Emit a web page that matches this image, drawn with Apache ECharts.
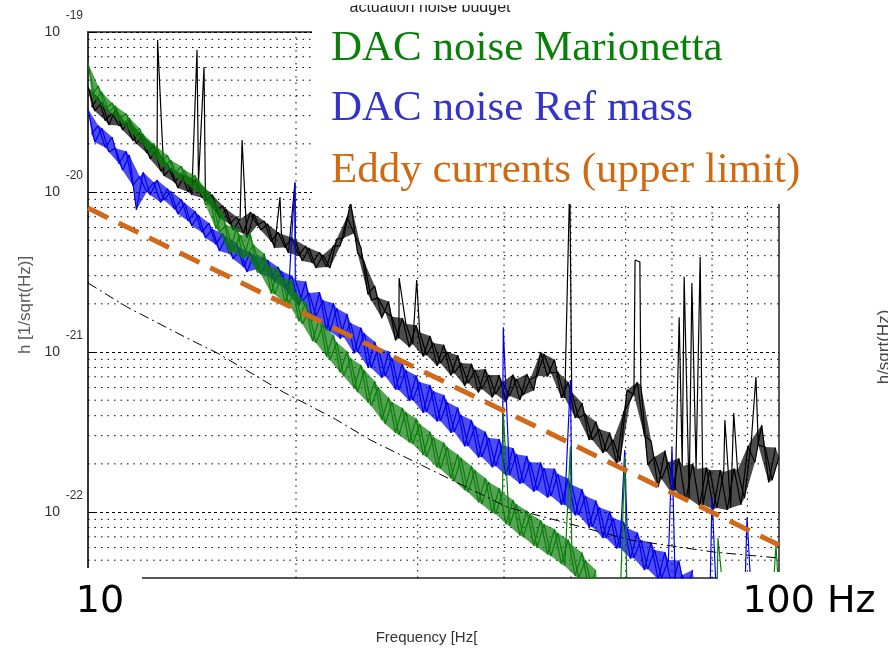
<!DOCTYPE html>
<html><head><meta charset="utf-8">
<script src="https://cdn.jsdelivr.net/npm/echarts@6/dist/echarts.min.js"></script>
<style>html,body{margin:0;padding:0;background:#fff}#c{width:888px;height:654px}</style>
</head><body><div id="c"></div>
<script>
// ---------- data ----------
const freqGrid = [
 10.0,10.23,10.47,10.72,10.96,11.22,11.48,11.75,12.02,12.30,
 12.59,12.88,13.18,13.49,13.80,14.13,14.45,14.79,15.14,15.49,
 15.85,16.22,16.60,16.98,17.38,17.78,18.20,18.62,19.05,19.50,
 19.95,20.42,20.89,21.38,21.88,22.39,22.91,23.44,23.99,24.55,
 25.12,25.70,26.30,26.92,27.54,28.18,28.84,29.51,30.20,30.90,
 31.62,32.36,33.11,33.88,34.67,35.48,36.31,37.15,38.02,38.90,
 39.81,40.74,41.69,42.66,43.65,44.67,45.71,46.77,47.86,48.98,
 50.12,51.29,52.48,53.70,54.95,56.23,57.54,58.88,60.26,61.66,
 63.10,64.57,66.07,67.61,69.18,70.79,72.44,74.13,75.86,77.62,
 79.43,81.28,83.18,85.11,87.10,89.13,91.20,93.33,95.50,97.72,
 100.0];
const freqMid = [
 10.12,10.35,10.59,10.84,11.09,11.35,11.61,11.88,12.16,12.45,
 12.74,13.03,13.34,13.65,13.96,14.29,14.62,14.96,15.31,15.67,
 16.03,16.41,16.79,17.18,17.58,17.99,18.41,18.84,19.28,19.72,
 20.18,20.65,21.13,21.63,22.13,22.65,23.17,23.71,24.27,24.83,
 25.41,26.00,26.61,27.23,27.86,28.51,29.17,29.85,30.55,31.26,
 31.99,32.73,33.50,34.28,35.08,35.89,36.73,37.58,38.46,39.36,
 40.27,41.21,42.17,43.15,44.16,45.19,46.24,47.32,48.42,49.55,
 50.70,51.88,53.09,54.33,55.59,56.89,58.21,59.57,60.95,62.37,
 63.83,65.31,66.83,68.39,69.98,71.61,73.28,74.99,76.74,78.52,
 80.35,82.22,84.14,86.10,88.10,90.16,92.26,94.41,96.61,98.86];

const blackVals = [
 4.53e-20,3.21e-20,3.65e-20,2.62e-20,3.30e-20,2.44e-20,2.82e-20,2.00e-20,2.24e-20,1.61e-20,
 1.86e-20,1.26e-20,1.41e-20,1.06e-20,1.28e-20,9.58e-21,1.15e-20,8.78e-21,9.58e-21,6.88e-21,
 7.83e-21,5.79e-21,6.78e-21,5.16e-21,7.29e-21,5.79e-21,6.31e-21,4.47e-21,5.46e-21,4.16e-21,
 5.01e-21,3.71e-21,4.47e-21,3.35e-21,4.04e-21,3.35e-21,5.08e-21,5.16e-21,8.66e-21,4.16e-21,
 3.65e-21,2.11e-21,2.18e-21,1.78e-21,1.66e-21,1.22e-21,1.50e-21,1.12e-21,1.33e-21,9.58e-22,
 1.14e-21,8.53e-22,1.00e-21,7.39e-22,8.53e-22,6.40e-22,7.72e-22,5.87e-22,7.18e-22,5.46e-22,
 6.49e-22,5.31e-22,6.78e-22,5.39e-22,6.78e-22,7.08e-22,9.72e-22,7.39e-22,7.50e-22,5.16e-22,
 5.62e-22,3.87e-22,4.10e-22,2.82e-22,3.30e-22,2.40e-22,2.82e-22,2.08e-22,5.79e-22,5.39e-22,
 6.22e-22,1.97e-22,2.21e-22,1.61e-22,2.05e-22,1.37e-22,1.94e-22,1.21e-22,1.86e-22,1.11e-22,
 1.83e-22,1.06e-22,1.78e-22,1.06e-22,1.83e-22,1.22e-22,2.82e-22,2.62e-22,2.55e-22,1.58e-22,
 2.21e-22];
const blackMidVals = [
 3.4e-20,3.9e-20,2.8e-20,3.1e-20,2.6e-20,2.7e-20,2.1e-20,2.35e-20,1.75e-20,1.95e-20,
 1.35e-20,1.5e-20,1.15e-20,1.3e-20,1.0e-20,1.2e-20,9.2e-21,1.0e-20,7.5e-21,8.2e-21,
 6.3e-21,7.0e-21,5.5e-21,7.5e-21,6.2e-21,6.6e-21,4.9e-21,5.6e-21,4.5e-21,5.2e-21,
 4.0e-21,4.6e-21,3.6e-21,4.2e-21,3.4e-21,4.6e-21,4.6e-21,7.0e-21,5.5e-21,4.5e-21,
 2.30e-21,2.59e-21,1.63e-21,2.07e-21,1.18e-21,1.63e-21,1.07e-21,1.47e-21,9.38e-22,1.26e-21,
 8.18e-22,1.11e-21,7.13e-22,9.55e-22,6.13e-22,8.46e-22,5.58e-22,7.83e-22,5.19e-22,7.18e-22,
 4.87e-22,7.23e-22,5.01e-22,7.28e-22,5.75e-22,1.00e-21,7.03e-22,8.98e-22,5.16e-22,6.49e-22,
 3.87e-22,4.80e-22,2.82e-22,3.68e-22,2.34e-22,3.14e-22,2.01e-22,4.2e-22,5.0e-22,6.5e-22,
 3.0e-22,2.78e-22,1.43e-22,2.42e-22,1.30e-22,2.17e-22,1.16e-22,2.00e-22,1.09e-22,1.90e-22,
 1.04e-22,1.83e-22,1.03e-22,1.87e-22,1.11e-22,2.59e-22,2.04e-22,3.50e-22,1.53e-22,2.53e-22];
const blackSpikeFreq = [12.61,14.38,14.72,16.71,18.96,19.93,28.2,29.9,49.8,61.9,62.9,71.7,72.9,74.8,76.9,83.5,86.0,92.6];
const blackSpikeVals = [8.91e-20,7.72e-20,6.05e-20,2.11e-20,9.31e-21,1.14e-20,2.90e-21,2.82e-21,1.2e-20,3.76e-21,3.65e-21,1.65e-21,2.95e-21,2.70e-21,3.93e-21,3.76e-22,4.16e-22,6.98e-22];

const blueVals = [
 3.30e-20,2.05e-20,2.51e-20,1.78e-20,1.88e-20,1.37e-20,1.70e-20,7.72e-21,1.33e-20,9.58e-21,
 1.19e-20,8.91e-21,1.01e-20,7.29e-21,8.53e-21,6.13e-21,7.18e-21,5.16e-21,5.87e-21,4.28e-21,
 5.24e-21,3.81e-21,4.47e-21,3.16e-21,4.04e-21,3.07e-21,3.76e-21,2.74e-21,3.21e-21,2.30e-21,
 2.82e-21,2.08e-21,2.34e-21,1.68e-21,2.11e-21,1.35e-21,1.88e-21,1.24e-21,1.52e-21,1.00e-21,
 1.31e-21,7.94e-22,1.06e-21,7.08e-22,9.17e-22,5.79e-22,7.72e-22,5.01e-22,6.49e-22,4.22e-22,
 5.70e-22,3.71e-22,4.87e-22,3.16e-22,4.04e-22,2.59e-22,3.45e-22,2.21e-22,2.90e-22,1.94e-22,
 2.62e-22,1.70e-22,2.30e-22,1.52e-22,2.05e-22,1.37e-22,1.88e-22,1.26e-22,1.73e-22,1.11e-22,
 1.48e-22,9.58e-23,1.26e-22,8.05e-23,1.07e-22,6.88e-23,9.17e-23,5.96e-23,7.94e-23,5.16e-23,
 6.68e-23,4.40e-23,5.79e-23,3.87e-23,5.01e-23,3.35e-23,4.04e-23,3.03e-23,2.9e-23,2.6e-23,
 2.9e-23,2.6e-23,2.9e-23,2.6e-23,2.9e-23,2.6e-23,2.9e-23,2.6e-23,2.9e-23,2.6e-23,
 2.9e-23];
const blueMidVals = [
 2.3e-20,2.6e-20,1.9e-20,2.2e-20,1.5e-20,1.8e-20,1.1e-20,1.25e-20,1.0e-20,1.15e-20,
 8.6e-21,1.05e-20,7.8e-21,9.0e-21,6.6e-21,7.6e-21,5.6e-21,6.4e-21,4.7e-21,5.5e-21,
 4.1e-21,4.8e-21,3.4e-21,4.2e-21,3.3e-21,3.9e-21,2.9e-21,3.4e-21,2.5e-21,3.0e-21,
 1.94e-21,2.76e-21,1.57e-21,2.37e-21,1.37e-21,2.02e-21,1.21e-21,1.73e-21,9.78e-22,1.42e-21,
 8.05e-22,1.16e-21,6.88e-22,1.01e-21,5.82e-22,8.46e-22,4.94e-22,7.13e-22,4.16e-22,6.22e-22,
 3.68e-22,5.39e-22,3.12e-22,4.50e-22,2.57e-22,3.76e-22,2.19e-22,3.18e-22,1.90e-22,2.86e-22,
 1.69e-22,2.51e-22,1.50e-22,2.24e-22,1.34e-22,2.04e-22,1.23e-22,1.87e-22,1.11e-22,1.62e-22,
 9.52e-23,1.39e-22,8.05e-23,1.18e-22,6.88e-23,1.01e-22,5.91e-23,8.72e-23,5.12e-23,7.45e-23,
 4.34e-23,6.45e-23,3.79e-23,5.62e-23,3.33e-23,4.97e-23,3.03e-23,4.34e-23];
const blueSpikeFreq = [19.93,39.9,49.9,59.8,70.0,80.0,89.9];
const blueSpikeVals = [1.15e-20,1.43e-21,6.68e-22,2.44e-22,2.55e-22,1.24e-22,9.31e-23];

const greenVals = [
 6.40e-20,3.76e-20,4.22e-20,3.16e-20,3.45e-20,2.66e-20,2.90e-20,2.18e-20,2.30e-20,1.73e-20,
 1.91e-20,1.43e-20,1.58e-20,1.22e-20,1.37e-20,1.06e-20,1.19e-20,8.30e-21,9.04e-21,5.62e-21,
 6.22e-21,4.22e-21,5.39e-21,4.04e-21,4.67e-21,3.07e-21,3.50e-21,2.30e-21,2.94e-21,2.02e-21,
 2.37e-21,1.50e-21,1.78e-21,1.14e-21,1.48e-21,8.91e-22,1.15e-21,7.08e-22,9.17e-22,5.62e-22,
 7.72e-22,4.60e-22,6.04e-22,3.55e-22,4.87e-22,3.03e-22,4.22e-22,2.66e-22,3.55e-22,2.21e-22,
 2.94e-22,1.86e-22,2.55e-22,1.56e-22,2.18e-22,1.33e-22,1.83e-22,1.12e-22,1.54e-22,9.72e-23,
 1.33e-22,8.18e-23,1.12e-22,6.98e-23,9.72e-23,6.04e-23,8.41e-23,5.31e-23,7.39e-23,4.60e-23,
 6.22e-23,3.87e-23,5.01e-23,3.25e-23,2.9e-23,2.6e-23,2.9e-23,2.6e-23,2.9e-23,2.6e-23,
 2.9e-23,2.6e-23,2.9e-23,2.6e-23,2.9e-23,2.6e-23,2.9e-23,2.6e-23,2.9e-23,2.6e-23,
 2.9e-23,2.6e-23,2.9e-23,2.6e-23,2.9e-23,2.6e-23,2.9e-23,2.6e-23,2.9e-23,2.6e-23,
 2.9e-23];
const greenMidVals = [
 4.0e-20,4.6e-20,3.3e-20,3.6e-20,2.8e-20,3.1e-20,2.3e-20,2.5e-20,1.85e-20,2.0e-20,
 1.5e-20,1.7e-20,1.3e-20,1.45e-20,1.12e-20,1.27e-20,9.6e-21,1.0e-20,5.91e-21,7.45e-21,
 4.13e-21,6.00e-21,3.81e-21,5.46e-21,3.14e-21,4.13e-21,2.32e-21,3.30e-21,2.01e-21,2.80e-21,
 1.56e-21,2.05e-21,1.17e-21,1.63e-21,9.38e-22,1.28e-21,7.45e-22,1.01e-21,5.91e-22,8.30e-22,
 4.84e-22,6.58e-22,3.76e-22,5.19e-22,3.12e-22,4.47e-22,2.72e-22,3.84e-22,2.27e-22,3.18e-22,
 1.90e-22,2.72e-22,1.62e-22,2.29e-22,1.37e-22,1.94e-22,1.15e-22,1.63e-22,9.86e-23,1.41e-22,
 8.41e-23,1.19e-22,7.13e-23,1.02e-22,6.17e-23,8.91e-23,5.43e-23,7.83e-23,4.73e-23,6.72e-23,
 3.98e-23,5.58e-23,3.25e-23,4.34e-23];
const greenSpikeFreq = [39.9,49.9,59.8,81.6,99.0];
const greenSpikeVals = [4.16e-22,2.55e-22,2.21e-22,6.88e-23,6.22e-23];

const modelFreq = [10,11.39,13.92,15.38,19.17,22.65,25.63,31.0,40.5,61.0,80.5,100];
const modelVals = [2.70e-21,1.91e-21,1.22e-21,9.86e-22,5.62e-22,3.87e-22,2.82e-22,1.88e-22,1.07e-22,6.68e-23,5.62e-23,5.16e-23];

const eddyFreq = [10, 100];
const eddyVals = [7.94e-21, 6.22e-23];

const xRange = [10, 100];
const yRange = [3.87e-23, 1e-19];
const xGridFreq = [20,30,40,50,60,70,80,90];
const yMinorVals = [5e-23,6e-23,7e-23,8e-23,9e-23,
 2e-22,3e-22,4e-22,5e-22,6e-22,7e-22,8e-22,9e-22,
 2e-21,3e-21,4e-21,5e-21,6e-21,7e-21,8e-21,9e-21,
 2e-20,3e-20,4e-20,5e-20,6e-20,7e-20,8e-20,9e-20];
const xTickText = {10: '10', 100: '100 Hz'};
const overlayTexts = ['DAC noise Marionetta', 'DAC noise Ref mass', 'Eddy currents (upper limit)'];
const overlayColors = ['#0a800a', '#3434c8', '#cf6a12'];
const seriesColors = {black: '#000000', blue: '#0000ee', green: '#0b7d0b'};

// ---------- build ----------
function merge(f, v, sf, sv) {
  const pts = f.map((x, i) => [x, v[i]]);
  sf.forEach((x, i) => pts.push([x, sv[i]]));
  pts.sort((a, b) => a[0] - b[0]);
  return pts;
}
function pairs(f, v) { return v.map((y, i) => [f[i], y]); }
// band outline: the upper readings forward, the lower readings backward
function bandOutline(mf, mv, hf, hv) {
  const hi = [], lo = [];
  mv.forEach((v, i) => (i % 2 === 0 ? hi : lo).push([mf[i], v]));
  hv.forEach((v, i) => (i % 2 === 0 ? lo : hi).push([hf[i], v]));
  hi.sort((a, b) => a[0] - b[0]);
  lo.sort((a, b) => b[0] - a[0]);
  return hi.concat(lo);
}
const hGridData = [];
yMinorVals.forEach(v => { hGridData.push([xRange[0], v], [xRange[1], v], [xRange[1], '-']); });
const vGridData = [];
xGridFreq.forEach(f => { vGridData.push([f, yRange[0]], [f, yRange[1]], [f, '-']); });

const chart = echarts.init(document.getElementById('c'), null, {renderer: 'canvas'});
const lineBase = {type: 'line', symbol: 'none', showSymbol: false, animation: false, silent: true, clip: true, connectNulls: false};
function bandSeries(outline, color, z, op) {
  return {
    type: 'custom', z: z, silent: true, animation: false,
    data: [[xRange[0], yRange[1]]],
    renderItem: function (params, api) {
      const cs = params.coordSys;
      const pts = outline.map(p => api.coord(p));
      return {type: 'polygon', shape: {points: pts}, style: {fill: color, opacity: op},
              clipPath: {type: 'rect', shape: {x: cs.x, y: cs.y, width: cs.width, height: cs.height}}};
    }
  };
}
const option = {
  animation: false,
  backgroundColor: '#fff',
  grid: {left: 88, top: 32, width: 691, height: 546, containLabel: false, outerBoundsMode: 'none',
         show: true, borderColor: '#222', borderWidth: 1.5, backgroundColor: 'transparent'},
  xAxis: {
    type: 'log', logBase: 10, min: xRange[0], max: xRange[1], z: 200,
    axisLine: {show: false}, axisTick: {show: false}, splitLine: {show: false},
    axisLabel: {
      showMinLabel: true, showMaxLabel: true, margin: 4, hideOverlap: false,
      formatter: v => { const r = Math.round(v); return r === 10 ? '{a|' + xTickText[10] + '}' : (r === 100 ? '{c|' + xTickText[100] + '}' : ''); },
      rich: {
        a: {fontFamily: 'DejaVu Sans', fontSize: 38, lineHeight: 40, color: '#000', padding: [0, 0, 0, 24]},
        c: {fontFamily: 'DejaVu Sans', fontSize: 38, lineHeight: 40, color: '#000', padding: [0, 0, 0, 60]}
      }
    },
    name: 'Frequency [Hz[', nameLocation: 'middle', nameGap: 52, nameMoveOverlap: false,
    nameTextStyle: {color: '#333', fontSize: 15, fontFamily: 'Liberation Sans', padding: [0, 14, 0, 0]}
  },
  yAxis: {
    type: 'log', logBase: 10, min: yRange[0], max: yRange[1],
    axisLine: {show: true, lineStyle: {color: '#333', width: 2}},
    axisTick: {show: true, inside: true, length: 6, lineStyle: {color: '#000'}},
    splitLine: {show: true, lineStyle: {color: '#000', width: 1, type: [3, 3]}},
    axisLabel: {
      margin: 5, padding: [0, 0, 16, 0], align: 'right',
      formatter: v => { const e = Math.log10(v); const r = Math.round(e); if (Math.abs(e - r) > 0.02) return ''; return '{s|' + r + '}\n{b|10}'; },
      rich: {
        s: {fontFamily: 'Liberation Sans', fontSize: 12, lineHeight: 16, color: '#333'},
        b: {fontFamily: 'Liberation Sans', fontSize: 14, lineHeight: 16, color: '#333', padding: [0, 23, 0, 0]}
      }
    },
    name: 'h [1/sqrt(Hz)]', nameLocation: 'middle', nameGap: 54, nameMoveOverlap: false,
    nameTextStyle: {color: '#5a5a5a', fontSize: 17, fontFamily: 'Liberation Sans'}
  },
  series: [
    Object.assign({}, lineBase, {name: 'hgrid', z: 1, data: hGridData,
      lineStyle: {color: '#000', width: 1, type: [1.5, 5]}}),
    Object.assign({}, lineBase, {name: 'vgrid', z: 1, data: vGridData,
      lineStyle: {color: '#000', width: 1, type: [1.5, 5]}}),
    bandSeries(bandOutline(freqGrid, blackVals, freqMid, blackMidVals), seriesColors.black, 2, 0.7),
    Object.assign({}, lineBase, {name: 'measured', z: 3, data: merge(freqGrid, blackVals, blackSpikeFreq, blackSpikeVals),
      lineStyle: {color: seriesColors.black, width: 1.2}}),
    Object.assign({}, lineBase, {name: 'measured b', z: 3, data: pairs(freqMid, blackMidVals),
      lineStyle: {color: seriesColors.black, width: 1.2}}),
    bandSeries(bandOutline(freqGrid, blueVals, freqMid, blueMidVals), seriesColors.blue, 4, 0.7),
    Object.assign({}, lineBase, {name: overlayTexts[1], z: 5, data: merge(freqGrid, blueVals, blueSpikeFreq, blueSpikeVals),
      lineStyle: {color: seriesColors.blue, width: 1.2}}),
    Object.assign({}, lineBase, {name: overlayTexts[1] + ' b', z: 5, data: pairs(freqMid, blueMidVals),
      lineStyle: {color: seriesColors.blue, width: 1.2}}),
    bandSeries(bandOutline(freqGrid, greenVals, freqMid, greenMidVals), seriesColors.green, 6, 0.7),
    Object.assign({}, lineBase, {name: overlayTexts[0], z: 7, data: merge(freqGrid, greenVals, greenSpikeFreq, greenSpikeVals),
      lineStyle: {color: seriesColors.green, width: 1.2}}),
    Object.assign({}, lineBase, {name: overlayTexts[0] + ' b', z: 7, data: pairs(freqMid, greenMidVals),
      lineStyle: {color: seriesColors.green, width: 1.2}}),
    Object.assign({}, lineBase, {name: 'model', z: 8, data: pairs(modelFreq, modelVals),
      lineStyle: {color: '#000', width: 1, type: [10, 4, 2, 4]}}),
    Object.assign({}, lineBase, {name: overlayTexts[2], z: 9, data: pairs(eddyFreq, eddyVals),
      lineStyle: {color: '#d0691a', width: 5, type: [22, 12]}})
  ],
  graphic: [
    {type: 'rect', z: 100, silent: true, shape: {x: 312, y: 0, width: 576, height: 204}, style: {fill: '#fff'}},
    {type: 'rect', z: 100, silent: true, shape: {x: 0, y: 568, width: 142, height: 86}, style: {fill: '#fff'}},
    {type: 'rect', z: 100, silent: true, shape: {x: 718, y: 572, width: 170, height: 82}, style: {fill: '#fff'}},
    {type: 'text', z: 101, silent: true, style: {text: 'actuation noise budget', x: 430, y: 15.5, font: '16px "Liberation Sans"', fill: '#222', textAlign: 'center', align: 'center', textVerticalAlign: 'bottom', verticalAlign: 'bottom'}},
    {type: 'rect', z: 102, silent: true, shape: {x: 330, y: 0, width: 200, height: 5}, style: {fill: '#fff'}},
    {type: 'text', z: 101, silent: true, style: {text: overlayTexts[0], x: 331, y: 48.5, font: '43px "Liberation Serif"', fill: overlayColors[0], textAlign: 'left', align: 'left', textVerticalAlign: 'middle', verticalAlign: 'middle'}},
    {type: 'text', z: 101, silent: true, style: {text: overlayTexts[1], x: 331, y: 108.5, font: '43px "Liberation Serif"', fill: overlayColors[1], textAlign: 'left', align: 'left', textVerticalAlign: 'middle', verticalAlign: 'middle'}},
    {type: 'text', z: 101, silent: true, style: {text: overlayTexts[2], x: 331, y: 170.5, font: '43px "Liberation Serif"', fill: overlayColors[2], textAlign: 'left', align: 'left', textVerticalAlign: 'middle', verticalAlign: 'middle'}},
    {type: 'text', z: 101, silent: true, x: 884, y: 347, rotation: Math.PI / 2, style: {text: 'h/sqrt(Hz)', x: 0, y: 0, font: '17px "Liberation Sans"', fill: '#444', textAlign: 'center', align: 'center', textVerticalAlign: 'middle', verticalAlign: 'middle'}}
  ]
};
chart.setOption(option);
</script>
</body></html>
